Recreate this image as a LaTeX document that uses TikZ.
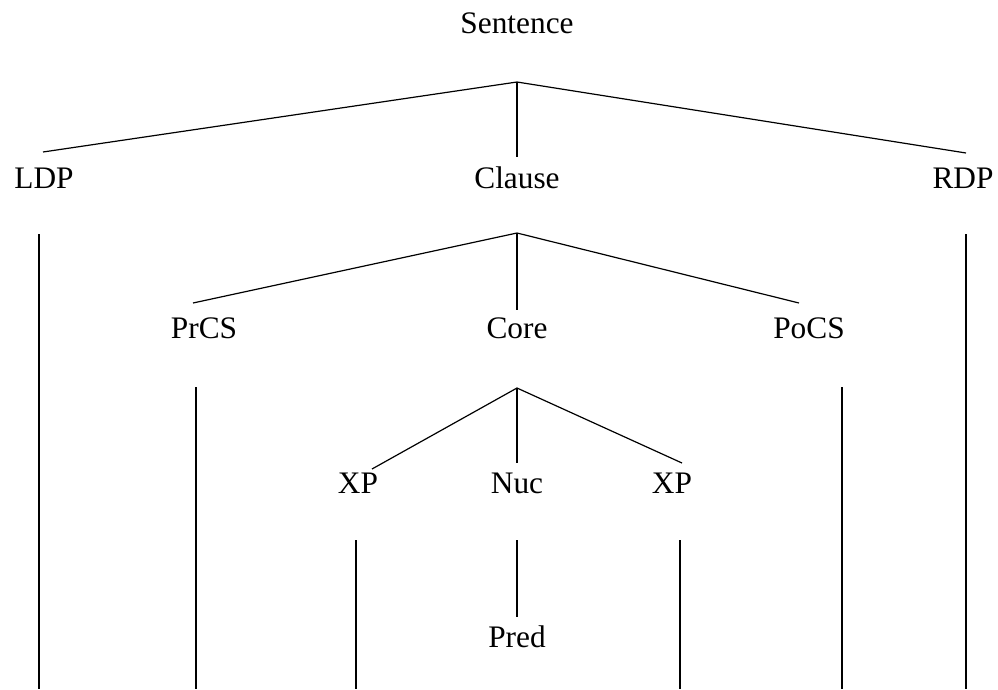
\documentclass[tikz,border=0pt]{standalone}
\usepackage{fontspec}
\setmainfont{Liberation Serif}
\begin{document}
\begin{tikzpicture}[x=0.75pt,y=-0.75pt,
  lbl/.style={anchor=base,inner sep=0pt,font=\fontsize{23.5}{28}\selectfont},
  branch/.style={draw=black,line width=0.9pt},
  stem/.style={draw=black,line width=1.2pt}]
\useasboundingbox (0,0) rectangle (998,689);
\fill[white] (0,0) rectangle (998,689);

% labels
\node[lbl] (sent)   at (517,33)  {Sentence};
\node[lbl] (ldp)    at (44,188)  {LDP};
\node[lbl] (clause) at (517,188) {Clause};
\node[lbl] (rdp)    at (963,188) {RDP};
\node[lbl] (prcs)   at (204,338) {PrCS};
\node[lbl] (core)   at (517,338) {Core};
\node[lbl] (pocs)   at (809,338) {PoCS};
\node[lbl] (xpl)    at (358,493) {XP};
\node[lbl] (nuc)    at (517,493) {Nuc};
\node[lbl] (xpr)    at (672,493) {XP};
\node[lbl] (pred)   at (517,647) {Pred};

% branching points and line ends
\coordinate (sent-j)   at (517,82);
\coordinate (ldp-up)   at (43,152);
\coordinate (clause-up) at (517,157);
\coordinate (rdp-up)   at (966,153);
\coordinate (clause-j) at (517,233);
\coordinate (prcs-up)  at (193,303);
\coordinate (core-up)  at (517,310);
\coordinate (pocs-up)  at (799,303);
\coordinate (core-j)   at (517,388);
\coordinate (xpl-up)   at (372,469);
\coordinate (nuc-up)   at (517,463);
\coordinate (xpr-up)   at (682,463);
\coordinate (nuc-dn)   at (517,540);
\coordinate (pred-up)  at (517,617);

\coordinate (ldp-dn)  at (39,234);
\coordinate (ldp-end) at (39,689);
\coordinate (rdp-dn)  at (966,234);
\coordinate (rdp-end) at (966,689);
\coordinate (prcs-dn)  at (196,387);
\coordinate (prcs-end) at (196,689);
\coordinate (pocs-dn)  at (842,387);
\coordinate (pocs-end) at (842,689);
\coordinate (xpl-dn)  at (356,540);
\coordinate (xpl-end) at (356,689);
\coordinate (xpr-dn)  at (680,540);
\coordinate (xpr-end) at (680,689);

% tree branches
\draw[branch] (ldp-up) -- (sent-j) -- (rdp-up);
\draw[stem] (sent-j) -- (clause-up);
\draw[branch] (prcs-up) -- (clause-j) -- (pocs-up);
\draw[stem] (clause-j) -- (core-up);
\draw[branch] (xpl-up) -- (core-j) -- (xpr-up);
\draw[stem] (core-j) -- (nuc-up);
\draw[stem] (nuc-dn) -- (pred-up);

% projection lines down to the bottom edge
\draw[stem] (ldp-dn) -- (ldp-end);
\draw[stem] (rdp-dn) -- (rdp-end);
\draw[stem] (prcs-dn) -- (prcs-end);
\draw[stem] (pocs-dn) -- (pocs-end);
\draw[stem] (xpl-dn) -- (xpl-end);
\draw[stem] (xpr-dn) -- (xpr-end);
\end{tikzpicture}
\end{document}
